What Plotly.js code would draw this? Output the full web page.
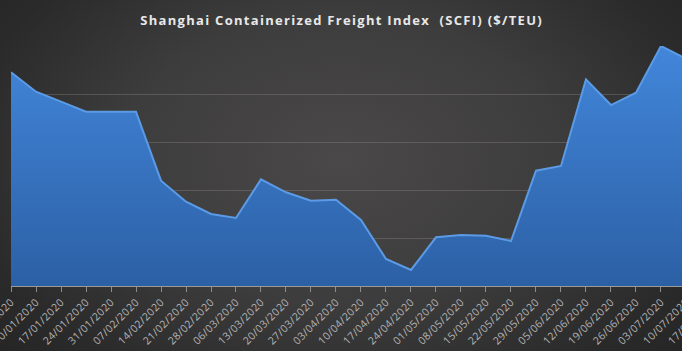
<!DOCTYPE html>
<html>
<head>
<meta charset="utf-8">
<script src="https://cdn.plot.ly/plotly-3.0.1.min.js"></script>
<style>
html,body{margin:0;padding:0;}
body{width:682px;height:351px;overflow:hidden;position:relative;
background:radial-gradient(ellipse 70% 90% at 50% 45%, #4a4848 0%, #3e3d3d 45%, #2b2a2a 80%, #242424 100%);}
#chart{width:740px;height:351px;position:absolute;left:0;top:0;}
.gtitle{letter-spacing:1.3px;}
.xtick text{letter-spacing:0.4px;}
</style>
</head>
<body>
<div id="chart"></div>
<script>
var dates = ['2020-01-03','2020-01-10','2020-01-17','2020-01-24','2020-01-31','2020-02-07','2020-02-14',
'2020-02-21','2020-02-28','2020-03-06','2020-03-13','2020-03-20','2020-03-27','2020-04-03','2020-04-10',
'2020-04-17','2020-04-24','2020-05-01','2020-05-08','2020-05-15','2020-05-22','2020-05-29','2020-06-05',
'2020-06-12','2020-06-19','2020-06-26','2020-07-03','2020-07-10','2020-07-17'];
var scfi = [1022.6,1002.4,992,981.6,981.6,981.6,909.7,887.8,875,870.8,911.1,897.6,888.9,889.9,868.8,
828.1,816.7,850.7,853.1,852.4,846.9,920.1,925,1015.3,988.5,1001.4,1050,1036.9,1030];
var tickLabels = dates.map(function(d){var p=d.split('-');return p[2]+'/'+p[1]+'/'+p[0];});
var chartTitle = 'Shanghai Containerized Freight Index  (SCFI) ($/TEU)';

var trace = {
  x: dates, y: scfi, type: 'scatter', mode: 'lines',
  fill: 'tozeroy',
  line: {color: '#5b9be6', width: 2},
  fillcolor: '#3a78c8',
  fillgradient: {type: 'vertical', start: 800, stop: 1050,
    colorscale: [[0, '#2c60a5'], [1, '#4286da']]},
  hoverinfo: 'x+y'
};

var layout = {
  width: 740, height: 351,
  paper_bgcolor: 'rgba(0,0,0,0)', plot_bgcolor: 'rgba(0,0,0,0)',
  margin: {l: 11, r: 0, t: 46, b: 65},
  showlegend: false,
  annotations: [{
    text: chartTitle, xref: 'paper', yref: 'paper', x: 330/729, y: 1,
    xanchor: 'center', yanchor: 'middle', yshift: 26, showarrow: false,
    font: {family: 'Open Sans, sans-serif', size: 13, color: '#e8e8e8', weight: 'bold'}
  }],
  xaxis: {
    type: 'date',
    range: ['2020-01-03', '2020-07-25 03:00'],
    tickvals: dates, ticktext: tickLabels,
    tickangle: -45,
    ticklabeloverflow: 'allow',
    tickfont: {family: 'Open Sans, sans-serif', size: 10.5, color: '#b4b4b4'},
    ticks: 'outside', ticklen: 5, tickcolor: '#8c8c8c', tickwidth: 1,
    showline: true, linecolor: '#9a9a9a', linewidth: 1,
    showgrid: false, zeroline: false, automargin: false, fixedrange: true
  },
  yaxis: {
    range: [800, 1050], dtick: 50, tick0: 800,
    showticklabels: false, ticks: '',
    showgrid: true, gridcolor: 'rgba(150,140,140,0.35)', gridwidth: 1,
    zeroline: false, showline: false, automargin: false, fixedrange: true
  }
};

Plotly.newPlot('chart', [trace], layout, {displayModeBar: false, staticPlot: true}).then(function(){
  var a = document.querySelectorAll('.annotation-text');
  for (var i = 0; i < a.length; i++) a[i].style.letterSpacing = '1.3px';
});
</script>
</body>
</html>
